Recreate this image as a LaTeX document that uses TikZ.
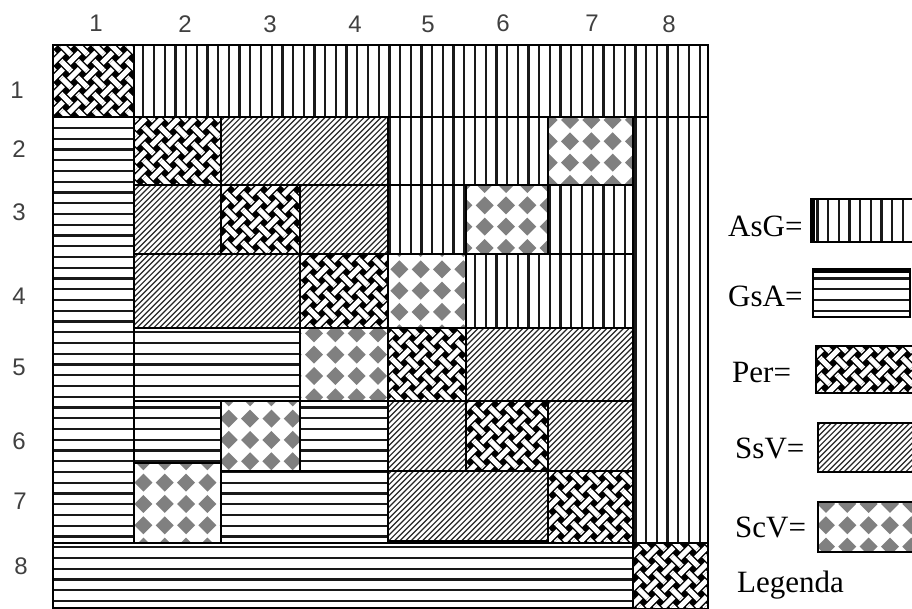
\documentclass[tikz,border=0pt]{standalone}
\usepackage{fontspec}
\setmainfont{Liberation Serif}
\newfontfamily\numfont{Liberation Sans}
\def\weavep{16.5}
\tikzset{
  hatch/.style={line width=2.3pt, black!90},
  diag/.style={line width=1.2pt, black!85},
  cellborder/.style={line width=1.5pt, black},
  perborder/.style={line width=2.5pt, black},
  scvborder/.style={line width=2pt, black},
  wstrip/.style={line width=5.2pt, white},
  wcase/.style={line width=7.8pt, black},
  diafill/.style={fill=black!50},
  numlbl/.style={font=\numfont\fontsize{24}{24}\selectfont, text=black!75, inner sep=0pt},
  leglbl/.style={font=\fontsize{31}{31}\selectfont, inner sep=0pt, anchor=base west},
}
% vertical lines (AsG)
\newcommand\PatVert[4]{%
  \begin{scope}
  \clip (#1,#2) rectangle (#3,#4);
  \fill[white] (#1,#2) rectangle (#3,#4);
  \pgfmathtruncatemacro\vKa{floor((#1-143.3)/10.7)-1}
  \pgfmathtruncatemacro\vKb{ceil((#3-143.3)/10.7)+1}
  \foreach \kk in {\vKa,...,\vKb}{\draw[hatch] ({143.3+\kk*10.7},#2-5) -- ({143.3+\kk*10.7},#4+5);}
  \end{scope}
  \draw[cellborder] (#1,#2) rectangle (#3,#4);
}
% horizontal lines (GsA)
\newcommand\PatHor[4]{%
  \begin{scope}
  \clip (#1,#2) rectangle (#3,#4);
  \fill[white] (#1,#2) rectangle (#3,#4);
  \pgfmathtruncatemacro\hKa{floor((#2-300)/10.75)-1}
  \pgfmathtruncatemacro\hKb{ceil((#4-300)/10.75)+1}
  \foreach \kk in {\hKa,...,\hKb}{\draw[hatch] (#1-5,{300+\kk*10.75}) -- (#3+5,{300+\kk*10.75});}
  \end{scope}
  \draw[cellborder] (#1,#2) rectangle (#3,#4);
}
% diagonal lines (SsV)
\newcommand\PatDiag[4]{%
  \begin{scope}
  \clip (#1,#2) rectangle (#3,#4);
  \fill[white] (#1,#2) rectangle (#3,#4);
  \pgfmathtruncatemacro\dKa{floor((#1+#2)/5.6)-1}
  \pgfmathtruncatemacro\dKb{ceil((#3+#4)/5.6)+1}
  \foreach \kk in {\dKa,...,\dKb}{\draw[diag] ({\kk*5.6-#4-5},#4+5) -- ({\kk*5.6-#2+5},#2-5);}
  \end{scope}
  \draw[cellborder] (#1,#2) rectangle (#3,#4);
}
% weave (Per)
\newcommand\PatWeave[4]{%
  \begin{scope}
  \clip (#1,#2) rectangle (#3,#4);
  \fill[black] (#1,#2) rectangle (#3,#4);
  \pgfmathtruncatemacro\wIa{floor((#1+#2)/\weavep)-1}
  \pgfmathtruncatemacro\wIb{ceil((#3+#4)/\weavep)+1}
  \pgfmathtruncatemacro\wJa{floor((#1-#4)/\weavep)-1}
  \pgfmathtruncatemacro\wJb{ceil((#3-#2)/\weavep)+1}
  \foreach \jj in {\wJa,...,\wJb}{\draw[wstrip] ({\jj*\weavep+#2-10},#2-10) -- ({\jj*\weavep+#4+10},#4+10);}
  \foreach \ii in {\wIa,...,\wIb}{%
    \draw[wcase] ({\ii*\weavep-#4-10},#4+10) -- ({\ii*\weavep-#2+10},#2-10);
    \draw[wstrip] ({\ii*\weavep-#4-10},#4+10) -- ({\ii*\weavep-#2+10},#2-10);}
  \foreach \ii in {\wIa,...,\wIb}{%
    \foreach \jj in {\wJa,...,\wJb}{%
      \pgfmathtruncatemacro\wq{mod(\ii+\jj,2)}%
      \ifnum\wq=0
        \pgfmathsetmacro\wcx{(\ii+\jj)*\weavep/2}%
        \pgfmathsetmacro\wcy{(\ii-\jj)*\weavep/2}%
        \draw[wcase] ({\wcx-\weavep/4},{\wcy-\weavep/4}) -- ({\wcx+\weavep/4},{\wcy+\weavep/4});
        \draw[wstrip] ({\wcx-\weavep/4},{\wcy-\weavep/4}) -- ({\wcx+\weavep/4},{\wcy+\weavep/4});
      \fi}}
  \end{scope}
  \draw[perborder] (#1,#2) rectangle (#3,#4);
}
% diamonds (ScV)
\newcommand\PatDiam[4]{%
  \begin{scope}
  \clip (#1,#2) rectangle (#3,#4);
  \fill[white] (#1,#2) rectangle (#3,#4);
  \pgfmathtruncatemacro\sIa{floor((#1-570)/21.33)-1}
  \pgfmathtruncatemacro\sIb{ceil((#3-570)/21.33)+1}
  \pgfmathtruncatemacro\sJa{floor((#2-120)/21.33)-1}
  \pgfmathtruncatemacro\sJb{ceil((#4-120)/21.33)+1}
  \foreach \ii in {\sIa,...,\sIb}{%
    \foreach \jj in {\sJa,...,\sJb}{%
      \fill[diafill] ({570+\ii*21.33},{120+\jj*21.33}) +(-9,0) -- +(0,-9) -- +(9,0) -- +(0,9) -- cycle;}}
  \end{scope}
  \draw[scvborder] (#1,#2) rectangle (#3,#4);
}
\begin{document}
\begin{tikzpicture}[x=1pt,y=-1pt]
\useasboundingbox (0,0) rectangle (912,609);
\fill[white] (0,0) rectangle (912,609);
% grid: X 53 134 221 300 388 466 548 633 708 ; Y 45 117 185 254 328 401 471 543 608
% AsG
\PatVert{134}{45}{708}{117}
\PatVert{388}{117}{548}{185}
\PatVert{388}{185}{466}{254}
\PatVert{548}{185}{633}{254}
\PatVert{466}{254}{633}{328}
\PatVert{633}{117}{708}{543}
% GsA
\PatHor{53}{117}{134}{543}
\PatHor{134}{328}{300}{401}
\PatHor{134}{401}{221}{463}
\PatHor{300}{401}{388}{471}
\PatHor{221}{471}{388}{543}
\PatHor{53}{543}{633}{608}
% SsV
\PatDiag{221}{117}{388}{185}
\PatDiag{134}{185}{221}{254}
\PatDiag{300}{185}{388}{254}
\PatDiag{134}{254}{300}{328}
\PatDiag{466}{328}{633}{401}
\PatDiag{388}{401}{466}{471}
\PatDiag{548}{401}{633}{471}
\PatDiag{388}{471}{548}{541}
% ScV
\PatDiam{548}{117}{633}{185}
\PatDiam{466}{185}{548}{254}
\PatDiam{388}{254}{466}{328}
\PatDiam{300}{328}{388}{401}
\PatDiam{221}{401}{300}{471}
\PatDiam{134}{463}{221}{543}
% Per
\PatWeave{53}{45}{134}{117}
\PatWeave{134}{117}{221}{185}
\PatWeave{221}{185}{300}{254}
\PatWeave{300}{254}{388}{328}
\PatWeave{388}{328}{466}{401}
\PatWeave{466}{401}{548}{471}
\PatWeave{548}{471}{633}{543}
\PatWeave{633}{543}{708}{609}
% column labels
\node[numlbl] (c1) at (96,23) {1};
\node[numlbl] (c2) at (185,24) {2};
\node[numlbl] (c3) at (270,24) {3};
\node[numlbl] (c4) at (355,24) {4};
\node[numlbl] (c5) at (428,24) {5};
\node[numlbl] (c6) at (503,23) {6};
\node[numlbl] (c7) at (592,23) {7};
\node[numlbl] (c8) at (669,24) {8};
% row labels
\node[numlbl] (r1) at (17,90) {1};
\node[numlbl] (r2) at (19,149) {2};
\node[numlbl] (r3) at (19,212) {3};
\node[numlbl] (r4) at (19,296) {4};
\node[numlbl] (r5) at (19,367) {5};
\node[numlbl] (r6) at (19,441) {6};
\node[numlbl] (r7) at (20,501) {7};
\node[numlbl] (r8) at (21,566) {8};
% legend
\node[leglbl] (lasg) at (728,237) {AsG=};
\PatVert{811}{199}{914}{242}
\draw[line width=4pt] (813,199) -- (813,242);
\node[leglbl] (lgsa) at (728,306) {GsA=};
\PatHor{813}{269}{910}{317}
\draw[line width=4pt] (813,271) -- (910,271);
\node[leglbl] (lper) at (732,382) {Per=};
\PatWeave{816}{346}{914}{393}
\node[leglbl] (lssv) at (735,458) {SsV=};
\PatDiag{818}{423}{914}{472}
\node[leglbl] (lscv) at (735,537) {ScV=};
\PatDiam{818}{502}{914}{552}
\node[leglbl] (lleg) at (737,592) {Legenda};
\end{tikzpicture}
\end{document}
